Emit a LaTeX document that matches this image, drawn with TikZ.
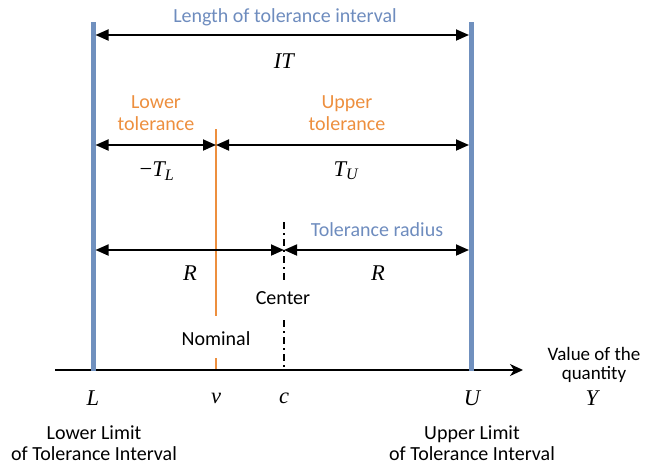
\documentclass[tikz,border=0pt]{standalone}
\usepackage{fontspec}
\setmainfont{Carlito}
\newfontfamily\tim{Liberation Serif}
\usetikzlibrary{arrows.meta}
\definecolor{barblue}{RGB}{112,144,190}
\definecolor{txtblue}{RGB}{110,140,190}
\definecolor{orng}{RGB}{237,143,62}
\tikzset{
  lbl/.style={font=\fontsize{20}{21}\selectfont, align=center, inner sep=0pt},
  mth/.style={font=\fontsize{22.5}{24}\selectfont\tim\itshape, inner sep=0pt},
  dimarrow/.style={line width=1.8pt, {Triangle[length=13pt,width=11pt]}-{Triangle[length=13pt,width=11pt]}},
  limitbar/.style={line width=5pt, barblue},
  nomline/.style={line width=1.8pt, orng},
  centline/.style={line width=1.4pt, dash pattern=on 7pt off 4pt on 2pt off 4pt},
}
\newcommand{\subt}[1]{\textsubscript{\fontsize{16}{16}\selectfont #1}}
\begin{document}
\begin{tikzpicture}[x=1pt,y=-1pt]
\useasboundingbox (0,0) rectangle (646,464);
% coordinates
\coordinate (Ltop) at (93,22);
\coordinate (Lbot) at (93,371);
\coordinate (Utop) at (471.5,22);
\coordinate (Ubot) at (471.5,371);
\coordinate (ax0) at (55,370);
\coordinate (ax1) at (523,370);
\coordinate (n0) at (216,129);
\coordinate (n1) at (216,316);
\coordinate (nt0) at (216,358);
\coordinate (nt1) at (216,370);
\coordinate (c0) at (284,222);
\coordinate (c1) at (284,282);
\coordinate (c2) at (284,320);
\coordinate (c3) at (284,370);
\coordinate (it0) at (93,35);
\coordinate (it1) at (471.5,35);
\coordinate (tl0) at (93,145);
\coordinate (tm) at (216,145);
\coordinate (tu1) at (471.5,145);
\coordinate (r0) at (93,250);
\coordinate (rm) at (284,250);
\coordinate (r1) at (471.5,250);
% orange nominal line
\draw[nomline] (n0) -- (n1);
\draw[nomline] (nt0) -- (nt1);
% center line
\draw[centline] (c0) -- (c1);
\draw[centline] (c2) -- (c3);
% axis
\draw[line width=1.8pt, -{Stealth[length=13pt,width=12pt,inset=4pt]}] (ax0) -- (ax1);
% limit bars
\draw[limitbar] (Ltop) -- (Lbot);
\draw[limitbar] (Utop) -- (Ubot);
% dimension arrows
\draw[dimarrow, shorten <=2.5pt, shorten >=2.5pt] (it0) -- (it1);
\draw[dimarrow, shorten <=2.5pt] (tl0) -- (tm);
\draw[dimarrow, shorten >=2.5pt] (tm) -- (tu1);
\draw[dimarrow, shorten <=2.5pt] (r0) -- (rm);
\draw[dimarrow, shorten >=2.5pt] (rm) -- (r1);
% labels
\node[lbl, text=txtblue] (lenlbl) at (285,17) {Length of tolerance interval};
\node[mth] (IT) at (284,61) {IT};
\node[lbl, text=orng, font=\fontsize{20}{22}\selectfont] (lowtol) at (156,113) {Lower\\tolerance};
\node[lbl, text=orng, font=\fontsize{20}{22}\selectfont] (uptol) at (347,113) {Upper\\tolerance};
\node[mth] (TL) at (157,171) {{\upshape −}T\subt{L}};
\node[mth] (TU) at (346,171) {T\subt{U}};
\node[lbl, text=txtblue] (radlbl) at (377,230) {Tolerance radius};
\node[mth] (R1) at (190,273) {R};
\node[mth] (R2) at (378,273) {R};
\node[lbl] (center) at (283,298) {Center};
\node[lbl] (nominal) at (216,339) {Nominal};
\node[lbl, font=\fontsize{19}{19}\selectfont] (valq) at (594,365) {Value of the\\quantity};
\node[mth] (Llbl) at (93,398) {L};
\node[mth] (nulbl) at (216,398) {ν};
\node[mth] (clbl) at (284,398) {c};
\node[mth] (Ulbl) at (472,398) {U};
\node[mth] (Ylbl) at (592,398) {Y};
\node[lbl] (lowlim) at (94,443) {Lower Limit\\of Tolerance Interval};
\node[lbl] (uplim) at (472,443) {Upper Limit\\of Tolerance Interval};
\end{tikzpicture}
\end{document}
